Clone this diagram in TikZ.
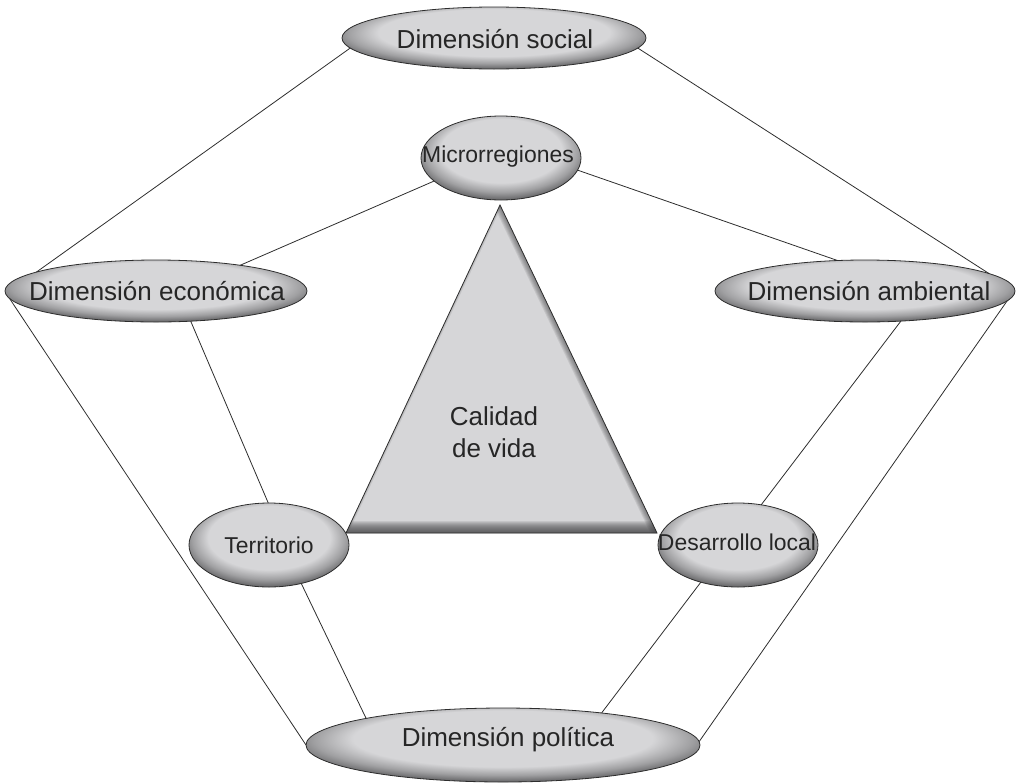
\documentclass[tikz,border=0pt]{standalone}
\usepackage{fontspec}
\setmainfont{Liberation Sans}
\usetikzlibrary{shapes.geometric}
\definecolor{ellL}{RGB}{214,214,216}
\definecolor{ellM}{RGB}{160,160,162}
\definecolor{ellD}{RGB}{70,70,72}
\definecolor{lineC}{RGB}{45,45,45}
\definecolor{txtC}{RGB}{38,38,38}
\pgfdeclareradialshading{ellshade}{\pgfpoint{0bp}{7bp}}{color(0bp)=(ellL); color(19bp)=(ellL); color(24bp)=(ellM); color(30bp)=(ellD); color(50bp)=(ellD)}
\begin{document}
\begin{tikzpicture}[x=0.75pt, y=-0.75pt,
  ell/.style={ellipse, draw=lineC, line width=0.6pt, shade, shading=ellshade, inner sep=0pt, outer sep=0pt},
  bigell/.style={ell, minimum width=227pt, minimum height=46.5pt},
  roundell/.style={ell, minimum width=120pt, minimum height=63pt},
  bigtxt/.style={font=\fontsize{19.5}{23.8}\selectfont, text=txtC, inner sep=0pt},
  smalltxt/.style={font=\fontsize{17.2}{20}\selectfont, text=txtC, inner sep=0pt},
  conn/.style={draw=lineC, line width=0.6pt}]
\useasboundingbox (0,0) rectangle (1016,782);
% central triangle
\coordinate (tA) at (500,205);
\coordinate (tL) at (346,533);
\coordinate (tR) at (657,533);
\begin{scope}
  \clip (tA) -- (tL) -- (tR) -- cycle;
  \fill[ellL] (tA) -- (tL) -- (tR) -- cycle;
  \foreach \w in {1.5,3.0,...,18.0} \draw[ellD, opacity=0.12, line width=\w pt] (tL) -- (tR);
  \foreach \w in {1.5,3.0,...,9.0} \draw[ellD, opacity=0.12, line width=\w pt] (tA) -- (tR);
  \foreach \w in {1.5,3.0} \draw[ellD, opacity=0.12, line width=\w pt] (tA) -- (tL);
\end{scope}
\draw[lineC, line width=0.6pt] (tA) -- (tL) -- (tR) -- cycle;
\node[bigtxt, align=center] (cal) at (494,432) {Calidad\\de vida};
% ellipses
\node[bigell, minimum width=228pt] (soc) at (494,38) {};
\node[roundell] (mic) at (501,158) {};
\node[bigell, minimum width=226.5pt] (eco) at (156,291) {};
\node[bigell, minimum width=225pt] (amb) at (865,291) {};
\node[roundell] (ter) at (269,545) {};
\node[roundell] (des) at (738,545) {};
\node[ell, minimum width=295.5pt, minimum height=55.5pt] (pol) at (503,745) {};
% connectors
\draw[conn] (soc.184.4) -- (eco.171.9);
\draw[conn] (soc.356.6) -- (amb.8);
\draw[conn] (eco.183.6) -- (pol.180);
\draw[conn] (amb.356.5) -- (pol.1);
\draw[conn] (mic.199.2) -- (eco.17.2);
\draw[conn] (mic.351.4) -- (amb.132);
\draw[conn] (eco.319.3) -- (ter.91.4);
\draw[conn] (ter.310.4) -- (pol.169.3);
\draw[conn] (amb.320) -- (des.60.3);
\draw[conn] (des.225.8) -- (pol.18.4);
% labels
\node[bigtxt] (socT) at (495,39) {Dimensión social};
\node[smalltxt] (micT) at (498,157) {Microrregiones};
\node[bigtxt] (ecoT) at (157,291) {Dimensión económica};
\node[bigtxt] (ambT) at (869,291) {Dimensión ambiental};
\node[smalltxt] (terT) at (269,545) {Territorio};
\node[smalltxt] (desT) at (737,542) {Desarrollo local};
\node[bigtxt] (polT) at (508,740) {Dimensión política};
\end{tikzpicture}
\end{document}
